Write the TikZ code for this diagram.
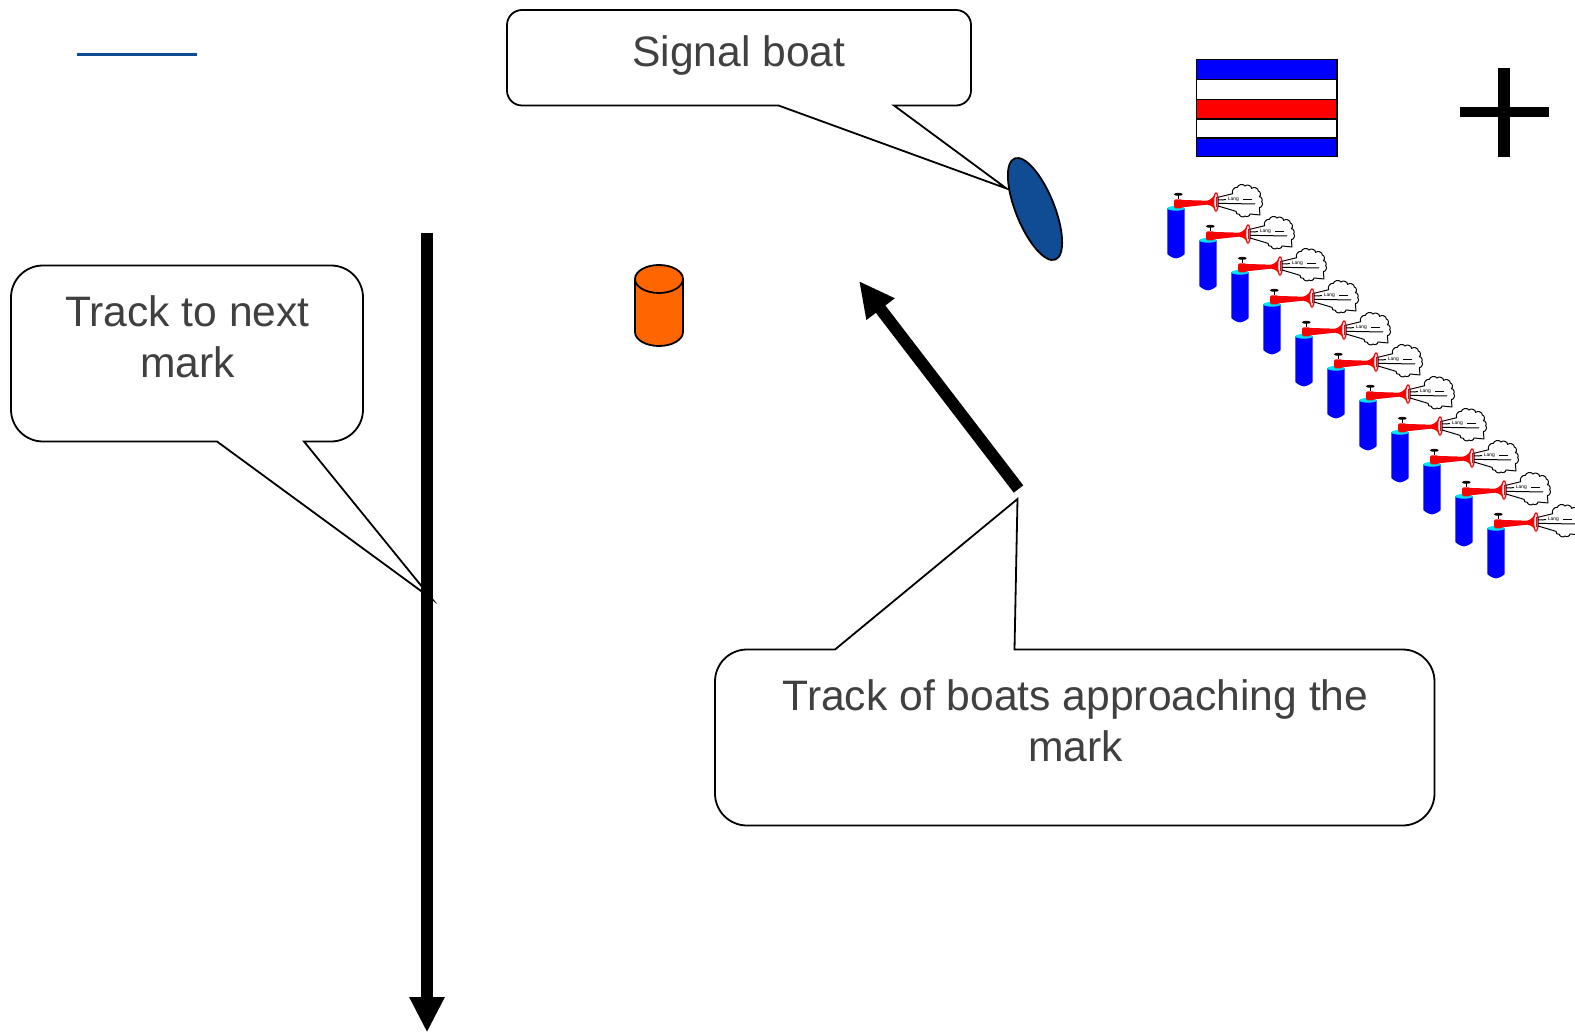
\documentclass[tikz,border=0pt]{standalone}
\usepackage{fontspec}
\setmainfont{Liberation Sans}
\usetikzlibrary{arrows.meta,shapes.geometric}
\definecolor{txtgray}{HTML}{404040}
\definecolor{navy}{HTML}{0F4C94}
\definecolor{markorange}{HTML}{FF6600}
\definecolor{hornblue}{HTML}{0000FF}
\definecolor{horncyan}{HTML}{00E5FF}
\tikzset{
  calloutline/.style={draw=black,fill=white,line width=1.8pt,line join=miter},
  callouttext/.style={text=txtgray,font=\fontsize{42.6}{50.5}\selectfont,align=center,inner sep=0pt},
  bigarrow/.style={line width=12pt,draw=black,-{Triangle[length=35.5pt,width=33pt]}},
  flagstripe/.style={draw=black,line width=1.2pt},
  thin ink/.style={draw=black,line width=1pt},
  langtext/.style={font=\fontsize{5}{5}\selectfont,inner sep=0pt,text=black}
}
\newcommand{\hornunit}[1]{%
  % cylinder
  \fill[hornblue] (52,115) -- (52,252) .. controls (60,260) and (70,265) .. (78,265) .. controls (86,265) and (96,260) .. (104,252) -- (104,115) -- cycle;
  \fill[horncyan] (78,115) ellipse[x radius=26,y radius=7];
  % valve and handle
  \fill[red,rounded corners=1.5pt] (72,88) rectangle (98,115);
  \draw[black,line width=1.3pt] (85,73) -- (85,88);
  \fill[black] (85,73) ellipse[x radius=13,y radius=4.5];
  % horn
  \fill[red] (96,90) -- (172,92) .. controls (185,88) and (190,80) .. (197,70) -- (197,122) .. controls (190,112) and (185,106) .. (172,104) -- (96,112) -- cycle;
  \draw[red,line width=1.2pt,fill=white] (198,96) ellipse[x radius=7,y radius=27];
  \draw[red,line width=1pt] (200,80) -- (200,112);
  % cloud
  \draw[thin ink,fill=white,line join=round] (204,82) -- (248,71) to[bend left=70] (262,52) to[bend left=70] (285,48) to[bend left=70] (305,55) to[bend left=70] (325,63) to[bend left=70] (328,80) to[bend left=70] (335,95) to[bend left=70] (328,113) -- (330,135) -- (300,132) to[bend left=70] (285,138) to[bend left=70] (268,133) to[bend left=70] (258,124) -- (204,108) -- cycle;
  \draw[thin ink] (204,90) -- (228,89);
  \draw[thin ink] (280,88) -- (305,88);
  \draw[thin ink] (204,100) -- (315,102);
  \node[langtext] (lang#1) at (250,88) {Lang};
}
\begin{document}
\begin{tikzpicture}[x=1pt,y=-1pt]
\useasboundingbox (0,0) rectangle (1575,1032);
\fill[white] (0,0) rectangle (1575,1032);

% short blue line
\coordinate (bluea) at (76.5,54.5);
\coordinate (blueb) at (197,54.5);
\draw[navy,line width=2.6pt] (bluea) -- (blueb);

% callouts
\draw[calloutline] (1006.5,188.5) -- (894,105.5) [rounded corners=15pt] -- (971,105.5) -- (971,10) -- (507,10) -- (507,105.5) [sharp corners] -- (778.5,105.5) -- cycle;
\node[callouttext] (signaltext) at (739,55) {Signal boat};

\draw[calloutline] (432,599) -- (304,441.5) [rounded corners=32pt] -- (363,441.5) -- (363,265.5) -- (11,265.5) -- (11,441.5) [sharp corners] -- (217,441.5) -- cycle;
\node[callouttext] (nexttext) at (187.5,337) {Track to next\\mark};

\draw[calloutline] (1017.5,499) -- (1014.5,649.5) [rounded corners=32pt] -- (1434.5,649.5) -- (1434.5,825.5) -- (715,825.5) -- (715,649.5) [sharp corners] -- (835,649.5) -- cycle;
\node[callouttext] (tracktext) at (1075.5,721) {Track of boats approaching the\\mark};

% track arrows
\coordinate (nexta) at (427,233);
\coordinate (nextb) at (427,1032.5);
\draw[bigarrow] (nexta) -- (nextb);
\coordinate (tracka) at (1018.5,489);
\coordinate (trackb) at (859,281);
\draw[bigarrow] (tracka) -- (trackb);

% signal boat
\node[ellipse,draw=black,fill=navy,line width=1.8pt,minimum width=109pt,minimum height=38.5pt,inner sep=0pt,rotate=-68] (boat) at (1035,209) {};

% orange mark
\draw[black,fill=markorange,line width=1.8pt] (635,279) -- (635,332) arc[start angle=180,end angle=360,x radius=24,y radius=-14] -- (683,279) arc[start angle=0,end angle=180,x radius=24,y radius=-14] -- cycle;
\draw[black,line width=1.8pt] (635,279) arc[start angle=180,end angle=360,x radius=24,y radius=-14];

% flag
\draw[flagstripe,fill=hornblue] (1196.5,59.5) rectangle (1337,79.5);
\draw[flagstripe,fill=white] (1196.5,79.5) rectangle (1337,99.5);
\draw[flagstripe,fill=red] (1196.5,99.5) rectangle (1337,119);
\draw[flagstripe,fill=white] (1196.5,119) rectangle (1337,138);
\draw[flagstripe,fill=hornblue] (1196.5,138) rectangle (1337,156.5);

% plus
\fill[black] (1498,68) rectangle (1510,157);
\fill[black] (1460,107) rectangle (1549,117);

% horns
\foreach \k in {0,...,10}{
  \begin{scope}[shift={(1150+32*\k,170+32*\k)},x=.3333pt,y=-.3333pt]
    \hornunit{\k}
  \end{scope}
}
\end{tikzpicture}
\end{document}
